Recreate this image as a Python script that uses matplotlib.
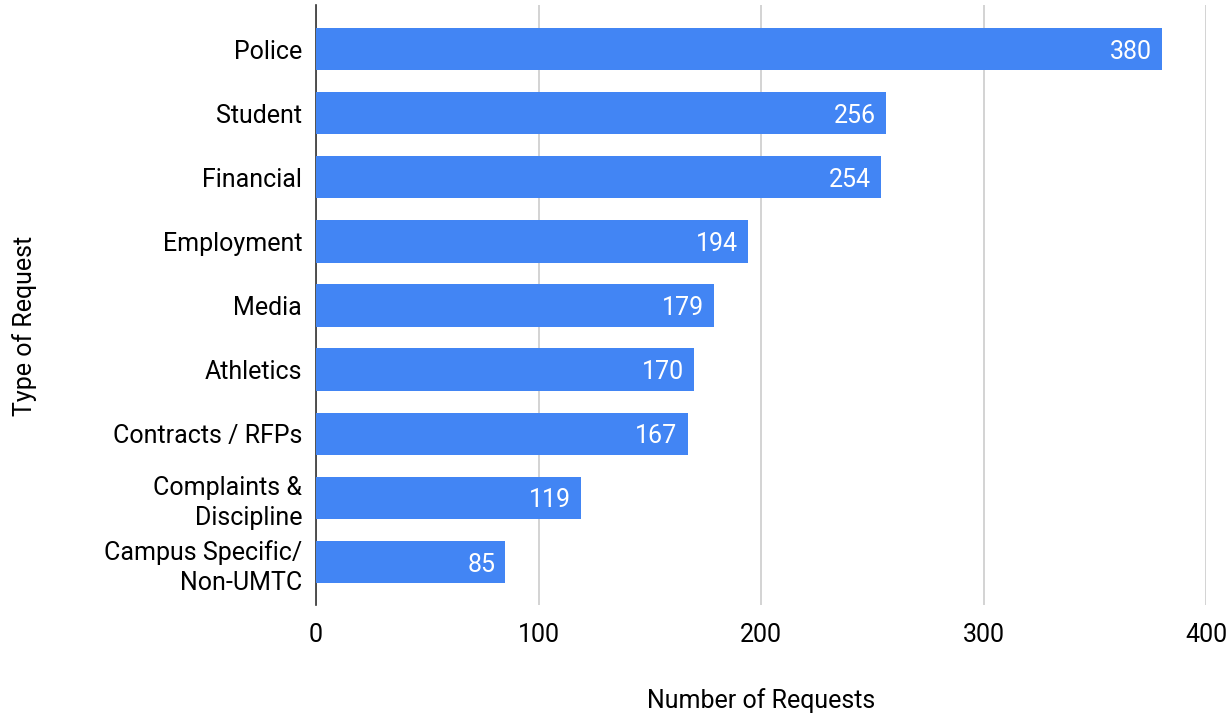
import matplotlib.pyplot as plt
import matplotlib

matplotlib.rcParams['font.family'] = ['Roboto', 'DejaVu Sans']

# 数据
categories = ['Police', 'Student', 'Financial', 'Employment', 'Media', 'Athletics',
              'Contracts / RFPs', 'Complaints &\nDiscipline', 'Campus Specific/\nNon-UMTC']
counts = [380, 256, 254, 194, 179, 170, 167, 119, 85]
x_ticks = [0, 100, 200, 300, 400]

fig = plt.figure(figsize=(12.32, 7.16), dpi=100)
ax = fig.add_axes([0.2565, 0.155, 0.7225, 0.838])

pos = list(range(len(categories)))
ax.barh(pos, counts, height=0.66, color='#4285F4', zorder=3)

# 条形末端的数值标签
for p, v in zip(pos, counts):
    ax.text(v - 4.5, p, str(v), color='white', ha='right', va='center_baseline',
            fontsize=18, zorder=4)

ax.set_yticks(pos)
ax.set_yticklabels(categories, fontsize=18, multialignment='right', linespacing=1.3)
ax.set_ylim(8.67, -0.686)
ax.set_xlim(0, 400)
ax.set_xticks(x_ticks)
ax.set_xticklabels([str(t) for t in x_ticks], fontsize=18)

ax.grid(axis='x', color='#cccccc', linewidth=1.2, zorder=0)
for s in ['top', 'right', 'bottom']:
    ax.spines[s].set_visible(False)
ax.spines['left'].set_color('#333333')
ax.spines['left'].set_linewidth(1.2)
ax.tick_params(axis='both', length=0)
ax.tick_params(axis='x', pad=13)
ax.tick_params(axis='y', pad=10)

fig.text(0.618, 0.022, 'Number of Requests', ha='center', va='center', fontsize=18)
fig.text(0.02, 0.545, 'Type of Request', ha='center', va='center', rotation=90, fontsize=18)

fig.savefig('out.png', dpi=100)
